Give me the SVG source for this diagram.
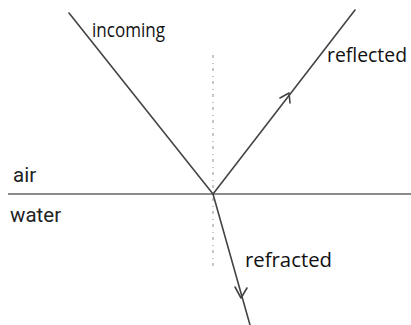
<svg xmlns="http://www.w3.org/2000/svg" width="411" height="325" viewBox="0 0 411 325">
<defs>
<style>
.ray{stroke:#444;stroke-width:1.6;fill:none;stroke-linecap:round}
.lbl{font-family:"Open Sans","DejaVu Sans",sans-serif;font-size:20px;fill:#111}
.plain{font-family:Roboto,"Liberation Sans",sans-serif;font-size:20.5px;fill:#222}
.normal{stroke:#aaa;stroke-width:1.3;stroke-dasharray:3 5 1 4;fill:none}
.chev{stroke:#444;stroke-width:1.6;fill:none;stroke-linecap:round;stroke-linejoin:round}
</style>
</defs>
<rect width="411" height="325" fill="#fff"/>
<g id="surface">
<line x1="8" y1="194" x2="411" y2="194" stroke="#666" stroke-width="1.6"/>
<text class="plain" x="13" y="182">air</text>
<text class="plain" x="10" y="222">water</text>
</g>
<g id="normal">
<line class="normal" x1="213" y1="55" x2="213" y2="268"/>
</g>
<g id="connectors">
<line id="incoming-ray" class="ray" x1="69" y1="13" x2="213" y2="194"/>
<line id="reflected-ray" class="ray" x1="213" y1="194" x2="355" y2="10"/>
<line id="refracted-ray" class="ray" x1="213" y1="194" x2="250" y2="325"/>
<path class="chev" d="M280,98 L289,93 L290,103"/>
<path class="chev" d="M235,287 L241,298 L247,288"/>
</g>
<g id="incoming">
<text class="lbl" x="92" y="37" textLength="73" lengthAdjust="spacingAndGlyphs">incoming</text>
</g>
<g id="reflected">
<text class="lbl" x="327" y="62" textLength="80" lengthAdjust="spacingAndGlyphs">reflected</text>
</g>
<g id="refracted">
<text class="lbl" x="245" y="267" textLength="87" lengthAdjust="spacingAndGlyphs">refracted</text>
</g>
</svg>
